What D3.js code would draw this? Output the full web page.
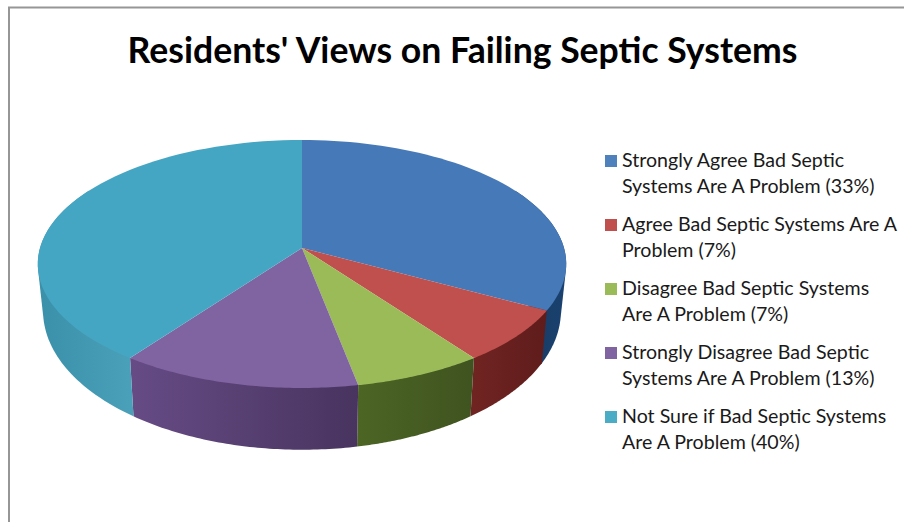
<!DOCTYPE html>
<html><head><meta charset="utf-8">
<script src="https://cdn.jsdelivr.net/npm/d3@7"></script>
<style>html,body{margin:0;padding:0;background:#fff}svg{display:block}text{font-family:Lato,"Open Sans",sans-serif}</style>
</head><body><svg id="c" width="904" height="522"></svg>
<script>
const title = "Residents' Views on Failing Septic Systems";
const categories = ["Strongly Agree","Agree","Disagree","Strongly Disagree","Not Sure"];
const values = [33,7,7,13,40];
const legendLines = [
  ["Strongly Agree Bad Septic","Systems Are A Problem (33%)"],
  ["Agree Bad Septic Systems Are A","Problem (7%)"],
  ["Disagree Bad Septic Systems","Are A Problem (7%)"],
  ["Strongly Disagree Bad Septic","Systems Are A Problem (13%)"],
  ["Not Sure if Bad Septic Systems","Are A Problem (40%)"]
];
const topColors = ["#4679b8","#c0504d","#9bbb59","#8064a2","#45a6c3"];
const legendColors = ["#4f81bd","#c0504d","#9bbb59","#8064a2","#4bacc6"];
const wallLight = ["#17375e","#702422","#4c6524","#664b85","#3b90a9"];
const wallDark  = ["#1a4270","#5e1c1b","#3f5320","#48345f","#4aa0b8"];

const svg = d3.select("#c");
const cx=302, cy=248, k=262, a=121.9, c=-0.129;
const wallDy=45, wallSx=0.98, wallSy=1.12;

// perspective projection of a point on the unit circle
function project(angle, plane){
  const u=Math.sin(angle), v=-Math.cos(angle), den=1+c*v;
  const X=k*u/den, Y=a*v/den;
  return plane==="top" ? [cx+X,cy+Y] : [cx+wallSx*X, cy+wallDy+wallSy*Y];
}
const arcs = d3.pie().sort(null)(values);
const lineGen = d3.line();
const sampled = (a0,a1)=>d3.range(0,61).map(i=>a0+(a1-a0)*i/60);
const FRONT0=Math.PI/3, FRONT1=Math.PI*5/3;

const defs=svg.append("defs");
arcs.forEach((d,i)=>{
  const a0=Math.max(d.startAngle,FRONT0), a1=Math.min(d.endAngle,FRONT1);
  const xs=sampled(a0,a1).map(t=>project(t,"top")[0]);
  const g=defs.append("linearGradient").attr("id","w"+i).attr("gradientUnits","userSpaceOnUse")
    .attr("x1",d3.max(xs)).attr("x2",d3.min(xs)).attr("y1",0).attr("y2",0);
  g.append("stop").attr("offset",0).attr("stop-color",wallDark[i]);
  g.append("stop").attr("offset",1).attr("stop-color",wallLight[i]);
});

// chart border
svg.append("path").attr("d",d3.line()([[9,522],[9,7.5],[904,7.5]]))
  .attr("fill","none").attr("stroke","#969696").attr("stroke-width",2);

// walls
svg.append("g").selectAll("path").data(arcs).join("path")
  .attr("d",(d)=>{
    const a0=Math.max(d.startAngle,FRONT0), a1=Math.min(d.endAngle,FRONT1);
    const t=sampled(a0,a1);
    return lineGen(d3.polygonHull(t.map(x=>project(x,"top")).concat(t.map(x=>project(x,"bottom")))))+"Z";
  })
  .attr("fill",(d,i)=>`url(#w${i})`);

// top face
svg.append("g").selectAll("path").data(arcs).join("path")
  .attr("d",d=>lineGen([[cx,cy]].concat(sampled(d.startAngle,d.endAngle).map(x=>project(x,"top"))))+"Z")
  .attr("fill",(d,i)=>topColors[i]);

svg.append("text").attr("x",462.5).attr("y",63).attr("text-anchor","middle")
  .attr("font-size",35.6).attr("font-weight",700).attr("fill","#000").text(title);

// legend
const legY=d3.scalePoint().domain(categories).range([160,416]);
const leg=svg.append("g").selectAll("g").data(categories).join("g")
  .attr("transform",d=>`translate(605,${legY(d)})`);
leg.append("rect").attr("x",0).attr("y",-5).attr("width",12).attr("height",12)
  .attr("fill",(d,i)=>legendColors[i]);
leg.each(function(d,i){
  d3.select(this).selectAll("text").data(legendLines[i]).join("text")
    .attr("x",17).attr("y",(l,j)=>7+j*26.3).attr("font-size",19.6).attr("fill","#1a1a1a").text(l=>l);
});
</script></body></html>
